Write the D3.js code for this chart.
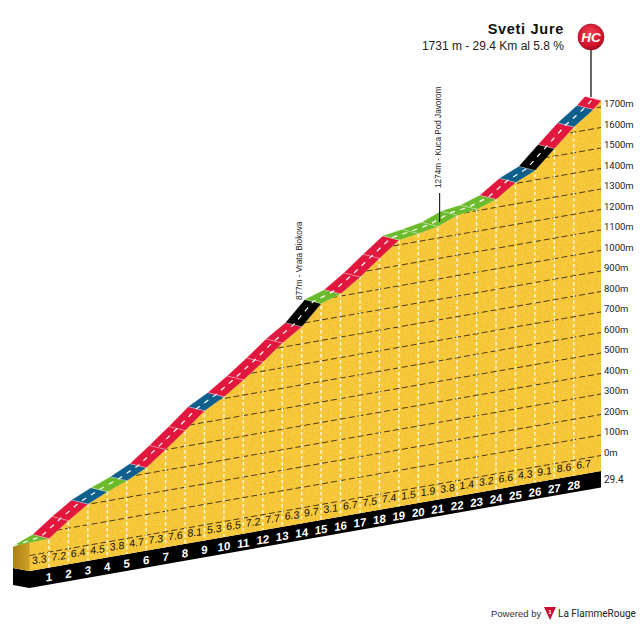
<!DOCTYPE html>
<html>
<head>
<meta charset="utf-8">
<script src="https://cdn.jsdelivr.net/npm/d3@7"></script>
<style>
  html, body { margin: 0; background: #fff; }
  svg { display: block; }
  text { font-family: "Liberation Sans", Arial, sans-serif; }
  .narrow { font-family: "Liberation Sans Narrow", "Liberation Sans", sans-serif; }
  .roboto { font-family: Roboto, sans-serif; }
</style>
</head>
<body>
<svg width="640" height="624"></svg>
<script>
// km marks along the climb, the first one is the start of the drawing block
const kmMarks = [-0.85, 1, 2, 3, 4, 5, 6, 7, 8, 9, 10, 11, 12, 13, 14, 15, 16, 17, 18, 19, 20, 21, 22, 23, 24, 25, 26, 27, 28, 29, 29.4]
const elevations = [60, 66, 137, 201, 245, 282, 329, 401, 477, 557, 609, 674, 745, 821, 884, 980, 1011, 1077, 1151, 1224, 1239, 1257, 1295, 1308, 1339, 1405, 1447, 1537, 1626, 1695, 1731]
const gradients = [3.3, 7.2, 6.4, 4.5, 3.8, 4.7, 7.3, 7.6, 8.1, 5.3, 6.5, 7.2, 7.7, 6.3, 9.7, 3.1, 6.7, 7.5, 7.4, 1.5, 1.9, 3.8, 1.4, 3.2, 6.6, 4.3, 9.1, 8.6, 6.7]
// road colour of each stretch (the last 400m has no gradient label)
const segmentClasses = ["g", "r", "r", "b", "g", "b", "r", "r", "r", "b", "r", "r", "r", "r", "k", "g", "r", "r", "r", "g", "g", "g", "g", "g", "r", "b", "k", "r", "b", "r"]
const kmLabels = d3.range(1, 29)
const altitudeTicks = d3.range(0, 1701, 100)
const passKms = [14, 21.1]
const passNames = ["877m - Vrata Biokova", "1274m - Kuca Pod Javorom"]

const svg = d3.select("svg")
const defs = svg.append("defs")

const x = d3.scaleLinear().domain([-0.85, 29.4]).range([13, 601])
const yRight = d3.scaleLinear().domain([0, 1700]).range([455.5, 107])
const color = d3.scaleOrdinal().domain(["g", "b", "r", "k"]).range(["#6cbb2c", "#0f5f8d", "#e2173d", "#000000"])

// the whole profile is drawn sheared, everything climbs to the right
const shear = 0.175
const groundDrop = 15.5
const baseHeight = 16.5
const roadBack = [-16, -4]
const rightX = x(29.4)
const zeroX = x(0)

function px(km, elevation) {
  return [x(km), yRight(elevation) + (rightX - x(km)) * shear]
}
function groundY(xPos) {
  return yRight(0) + groundDrop + (rightX - xPos) * shear
}

const profile = kmMarks.map((km, i) => px(km, elevations[i]))
const areaPoints = profile.concat([[rightX, groundY(rightX)], [zeroX, groundY(zeroX)], [x(-0.85), groundY(zeroX) - 3]])

defs.append("clipPath").attr("id", "areaClip")
  .append("polygon").attr("points", areaPoints.join(" "))

const wallGradient = defs.append("linearGradient").attr("id", "wall")
wallGradient.append("stop").attr("offset", "0%").attr("stop-color", "#a98119")
wallGradient.append("stop").attr("offset", "100%").attr("stop-color", "#cf9f27")

const badgeGradient = defs.append("radialGradient").attr("id", "badge")
  .attr("cx", "45%").attr("cy", "35%").attr("r", "70%")
badgeGradient.append("stop").attr("offset", "0%").attr("stop-color", "#f0414f")
badgeGradient.append("stop").attr("offset", "70%").attr("stop-color", "#d3122c")
badgeGradient.append("stop").attr("offset", "100%").attr("stop-color", "#9c0d20")

// soft orange mottling on the yellow
const speckle = defs.append("filter").attr("id", "speckle")
  .attr("x", 0).attr("y", 0).attr("width", "100%").attr("height", "100%")
  .attr("color-interpolation-filters", "sRGB")
speckle.append("feTurbulence").attr("type", "fractalNoise").attr("baseFrequency", 0.5)
  .attr("numOctaves", 2).attr("seed", 4).attr("result", "noise")
speckle.append("feColorMatrix").attr("in", "noise").attr("type", "matrix")
  .attr("values", "0 0 0 0 0.93  0 0 0 0 0.69  0 0 0 0 0.15  1.6 0 0 0 -0.72")
  .attr("result", "dots")
speckle.append("feComposite").attr("in", "dots").attr("in2", "SourceGraphic").attr("operator", "in").attr("result", "clipped")
const speckleMerge = speckle.append("feMerge")
speckleMerge.append("feMergeNode").attr("in", "SourceGraphic")
speckleMerge.append("feMergeNode").attr("in", "clipped")

// black base
svg.append("polygon")
  .attr("fill", "#000")
  .attr("points", [
    [x(-0.85), groundY(zeroX) - 3],
    [zeroX, groundY(zeroX)],
    [rightX, groundY(rightX)],
    [rightX, groundY(rightX) + baseHeight],
    [zeroX, groundY(zeroX) + baseHeight + 0.5],
    [x(-0.85), groundY(zeroX) + baseHeight - 2.5]
  ].join(" "))

// yellow face
svg.append("polygon")
  .attr("points", areaPoints.join(" "))
  .attr("fill", "#f7ca3e")
  .attr("filter", "url(#speckle)")

const clipped = svg.append("g").attr("clip-path", "url(#areaClip)")

clipped.append("rect")
  .attr("x", x(-0.85)).attr("y", 520)
  .attr("width", zeroX - x(-0.85)).attr("height", 60)
  .attr("fill", "url(#wall)")

clipped.selectAll("line.alt")
  .data(altitudeTicks)
  .enter().append("line")
  .attr("class", "alt")
  .attr("x1", zeroX)
  .attr("y1", d => px(0, d)[1])
  .attr("x2", rightX)
  .attr("y2", d => px(29.4, d)[1])
  .attr("stroke", "#4a3a12")
  .attr("stroke-width", 1)
  .attr("stroke-dasharray", "6 3")

clipped.selectAll("line.km")
  .data(kmLabels)
  .enter().append("line")
  .attr("class", "km")
  .attr("x1", d => x(d))
  .attr("x2", d => x(d))
  .attr("y1", 60)
  .attr("y2", d => groundY(x(d)))
  .attr("stroke", "#fffbe0")
  .attr("stroke-width", 1.4)
  .attr("stroke-dasharray", "3.5 2.5")

// road, one quad per km
const backOf = (p, i) => i === 0 ? p : [p[0] + roadBack[0], p[1] + roadBack[1]]
const road = svg.append("g")
road.selectAll("polygon")
  .data(profile.slice(1))
  .enter().append("polygon")
  .attr("points", (d, i) => [profile[i], d, backOf(d, i + 1), backOf(profile[i], i)].join(" "))
  .attr("fill", (d, i) => color(segmentClasses[i]))
  .attr("stroke", (d, i) => color(segmentClasses[i]))
  .attr("stroke-width", 0.3)

// thin joints between the km quads
road.selectAll("line")
  .data(profile.slice(1, -1))
  .enter().append("line")
  .attr("x1", d => d[0] + 1.5)
  .attr("y1", d => d[1] + 0.4)
  .attr("x2", d => d[0] + roadBack[0] - 1.5)
  .attr("y2", d => d[1] + roadBack[1] - 0.4)
  .attr("stroke", "#fff")
  .attr("stroke-opacity", 0.6)
  .attr("stroke-width", 0.7)

const centerLine = d3.line()
road.append("path")
  .attr("d", centerLine(profile.map((p, i) => {
    const b = backOf(p, i)
    return [(p[0] + b[0]) / 2, (p[1] + b[1]) / 2]
  })))
  .attr("fill", "none")
  .attr("stroke", "#fff")
  .attr("stroke-width", 1.2)
  .attr("stroke-dasharray", "5 5.5")

// gradient per km
svg.append("g").selectAll("text")
  .data(gradients)
  .enter().append("text")
  .attr("class", "narrow")
  .attr("transform", (d, i) => {
    const cx = x(i + 0.5)
    return "translate(" + cx + "," + (groundY(cx) - 6) + ") skewY(-8)"
  })
  .attr("text-anchor", "middle")
  .attr("font-size", 10.5)
  .attr("fill", "#111")
  .text(d => d.toFixed(1))

// km numbers on the base
svg.append("g").selectAll("text")
  .data(kmLabels)
  .enter().append("text")
  .attr("class", "narrow")
  .attr("transform", d => "translate(" + x(d) + "," + (groundY(x(d)) + 13.5) + ") skewY(-8)")
  .attr("text-anchor", "middle")
  .attr("font-size", 11.5)
  .attr("font-weight", "bold")
  .attr("fill", "#fff")
  .text(d => d)

// altitude labels on the right
const altAxis = d3.axisRight(yRight).tickValues(altitudeTicks).tickSize(0).tickPadding(3).tickFormat(d => d + "m")
const altGroup = svg.append("g")
  .attr("transform", "translate(" + rightX + ",-3.5)")
  .call(altAxis)
altGroup.select(".domain").remove()
altGroup.selectAll("text")
  .attr("class", "roboto")
  .attr("font-size", 9.5)
  .attr("fill", "#222")

svg.append("text")
  .attr("class", "roboto")
  .attr("x", rightX + 3).attr("y", groundY(rightX) + 11.5)
  .attr("font-size", 10)
  .attr("fill", "#222")
  .text("29.4")

// pass names
svg.append("g").selectAll("text")
  .data(passNames)
  .enter().append("text")
  .attr("class", "narrow")
  .attr("transform", (d, i) => "translate(" + (x(passKms[i]) + (i === 0 ? 0.5 : 1.5)) + "," + (i === 0 ? 300 : 188) + ") rotate(-90)")
  .attr("font-size", 8.2)
  .attr("fill", "#222")
  .text(d => d)

svg.append("line")
  .attr("x1", x(passKms[1])).attr("x2", x(passKms[1]))
  .attr("y1", 193).attr("y2", 222)
  .attr("stroke", "#000").attr("stroke-width", 1)

// title
svg.append("text")
  .attr("x", 564).attr("y", 34)
  .attr("text-anchor", "end")
  .attr("font-size", 14.5)
  .attr("font-weight", "bold")
  .attr("letter-spacing", 0.7)
  .attr("fill", "#111")
  .text("Sveti Jure")

svg.append("text")
  .attr("x", 564).attr("y", 50)
  .attr("text-anchor", "end")
  .attr("font-size", 12)
  .attr("fill", "#222")
  .text("1731 m - 29.4 Km al 5.8 %")

// HC badge
svg.append("line")
  .attr("x1", 591).attr("x2", 591)
  .attr("y1", 48).attr("y2", 97)
  .attr("stroke", "#000").attr("stroke-width", 1.2)
svg.append("circle")
  .attr("cx", 591).attr("cy", 37).attr("r", 13)
  .attr("fill", "url(#badge)")
  .attr("stroke", "#8c0b1c").attr("stroke-width", 0.6)
svg.append("text")
  .attr("x", 591).attr("y", 42)
  .attr("text-anchor", "middle")
  .attr("font-size", 13.5)
  .attr("font-weight", "bold")
  .attr("font-style", "italic")
  .attr("fill", "#fff")
  .text("HC")

// footer
svg.append("text")
  .attr("x", 491).attr("y", 616.5)
  .attr("font-size", 9.5)
  .attr("fill", "#333")
  .text("Powered by")
svg.append("polygon")
  .attr("points", "544,607 556,607 550,620")
  .attr("fill", "#c8102e")
svg.append("text")
  .attr("x", 550).attr("y", 614)
  .attr("text-anchor", "middle")
  .attr("font-size", 6)
  .attr("font-weight", "bold")
  .attr("fill", "#fff")
  .text("1")
svg.append("text")
  .attr("class", "roboto")
  .attr("x", 558).attr("y", 617)
  .attr("font-size", 10)
  .attr("fill", "#222")
  .text("La FlammeRouge")
</script>
</body>
</html>
